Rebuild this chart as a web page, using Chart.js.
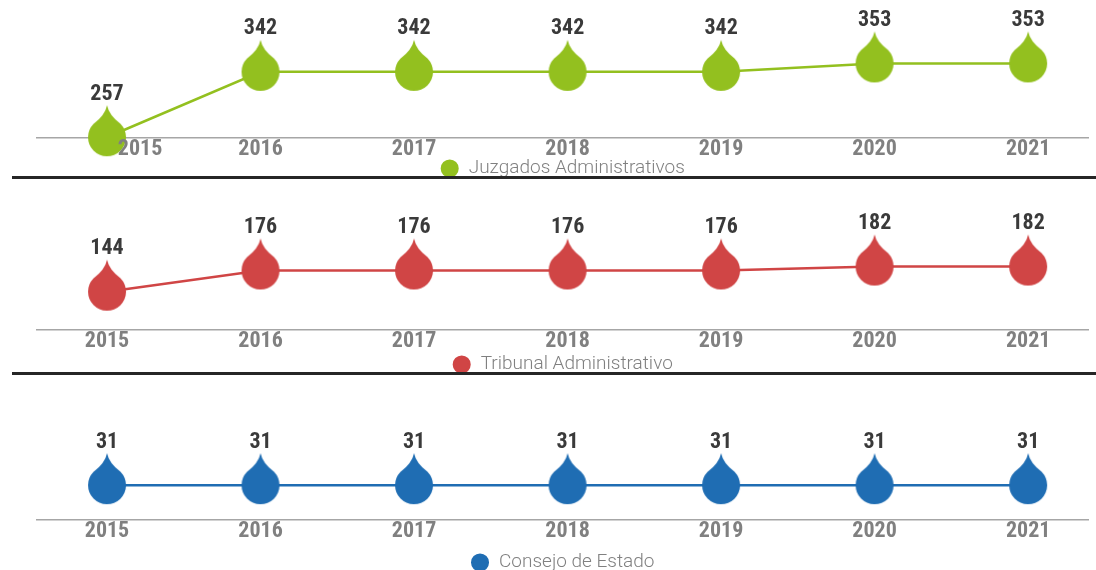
<!DOCTYPE html>
<html>
<head>
<meta charset="utf-8">
<script src="https://cdn.jsdelivr.net/npm/chart.js@4.4.1/dist/chart.umd.min.js"></script>
<style>
  body { margin: 0; background: #fff; width: 1096px; height: 570px; overflow: hidden; position: relative; }
  .panel { position: absolute; left: 0; width: 1096px; }
  .sep { position: absolute; left: 12px; right: 0; height: 3px; background: #262626; z-index: 5; }
</style>
</head>
<body>
<div class="panel" style="top:0;height:188px"><canvas id="juzgados"></canvas></div>
<div class="sep" style="top:176px"></div>
<div class="panel" style="top:180px;height:204px"><canvas id="tribunal"></canvas></div>
<div class="sep" style="top:372px"></div>
<div class="panel" style="top:377px;height:205px"><canvas id="consejo"></canvas></div>

<script>
// years shown on every panel
const years = [2015, 2016, 2017, 2018, 2019, 2020, 2021];

// values per court
const juzgadosValues = [257, 342, 342, 342, 342, 353, 353];
const tribunalValues = [144, 176, 176, 176, 176, 182, 182];
const consejoValues  = [31, 31, 31, 31, 31, 31, 31];

const BOLD_FONT = "'Roboto Condensed', 'DejaVu Sans Condensed', 'Liberation Sans Narrow', Roboto, sans-serif";

// teardrop marker (circle with a pointed top)
function dropImage(color) {
    const r = 19, tip = 32;
    const c = document.createElement('canvas');
    c.width = 2 * r + 2;
    c.height = 2 * tip + 2;
    const g = c.getContext('2d');
    const cx = c.width / 2, cy = c.height / 2;
    const a = 0.8;
    g.fillStyle = color;
    g.beginPath();
    g.moveTo(cx, cy - tip);
    g.quadraticCurveTo(cx + 2, cy - r - 3, cx + r * Math.sin(a), cy - r * Math.cos(a));
    g.arc(cx, cy, r, -Math.PI / 2 + a, 3 * Math.PI / 2 - a);
    g.quadraticCurveTo(cx - 2, cy - r - 3, cx, cy - tip);
    g.closePath();
    g.fill();
    return c;
}

// value labels above each drop
const valueLabels = {
    id: 'valueLabels',
    afterDatasetsDraw(chart) {
        const ctx = chart.ctx;
        const ds = chart.data.datasets[0];
        ctx.save();
        ctx.font = 'bold 22px ' + BOLD_FONT;
        ctx.fillStyle = '#3a3a3a';
        ctx.textAlign = 'center';
        ctx.textBaseline = 'middle';
        chart.getDatasetMeta(0).data.forEach((pt, i) => {
            ctx.fillText(ds.data[i].y, pt.x, pt.y - 43);
        });
        ctx.restore();
    }
};

// firstShift: the top panel has its first year label pushed right
function makePanel(id, label, values, color, yMin, yMax, axisHeight, firstShift) {
    new Chart(document.getElementById(id), {
        type: 'line',
        data: {
            datasets: [{
                label: label,
                data: years.map((y, i) => ({ x: y, y: values[i] })),
                borderColor: color,
                backgroundColor: color,
                borderWidth: 2.5,
                tension: 0,
                pointStyle: dropImage(color),
                clip: false
            }]
        },
        options: {
            responsive: true,
            maintainAspectRatio: false,
            animation: false,
            layout: { padding: { left: 37, right: 8, top: 0, bottom: 0 } },
            plugins: {
                legend: {
                    position: 'bottom',
                    labels: {
                        usePointStyle: true,
                        pointStyle: 'circle',
                        boxHeight: 11,
                        padding: 4,
                        color: '#808080',
                        font: { size: 19, weight: '300', family: 'Roboto, sans-serif' }
                    }
                },
                tooltip: { enabled: false }
            },
            scales: {
                x: {
                    type: 'linear',
                    min: 2014.544,
                    max: 2021.39,
                    afterBuildTicks: scale => {
                        scale.ticks = years.map((v, i) => ({ value: i === 0 ? v + firstShift : v }));
                    },
                    afterFit: scale => {
                        scale.height = axisHeight;
                        // tick labels may run into the legend strip, don't clip them
                        scale._computeLabelArea = () => undefined;
                    },
                    grid: { display: false, drawTicks: false },
                    border: { display: true, color: '#a6a6a6', width: 1.5 },
                    ticks: {
                        z: 1,
                        padding: 0,
                        color: '#808080',
                        font: { size: 22, weight: 'bold', family: BOLD_FONT, lineHeight: 1 },
                        callback: (v, i) => String(years[i])
                    }
                },
                y: { display: false, min: yMin, max: yMax }
            }
        },
        plugins: [valueLabels]
    });
}

makePanel('juzgados', 'Juzgados Administrativos', juzgadosValues, '#93c01f', 256, 427, 17, 0.215);
makePanel('tribunal', 'Tribunal Administrativo', tribunalValues, '#d04545', 86, 303, 21, 0);
makePanel('consejo', 'Consejo de Estado', consejoValues, '#1f6db3', -5, 136, 29, 0);
</script>
</body>
</html>
